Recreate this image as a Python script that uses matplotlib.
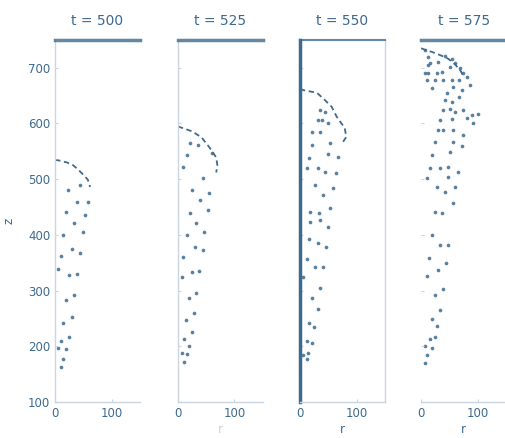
import numpy as np
import matplotlib as mpl
mpl.use('Agg')
import matplotlib.pyplot as plt

# times of the four snapshots
times = [500, 525, 550, 575]

# parcel positions (r, z) per snapshot
r_500 = [23, 39, 19, 33, 49, 14, 30, 44, 11, 58, 53, 44, 5, 25, 39, 33, 19, 30, 14, 25, 11, 19, 14, 11, 5]
z_500 = [480, 459, 441, 421, 405, 400, 375, 367, 362, 459, 436, 490, 339, 328, 330, 292, 283, 253, 242, 217, 209, 195, 177, 163, 197]

r_525 = [21, 35, 16, 60, 9, 44, 25, 56, 39, 21, 53, 33, 47, 16, 30, 44, 9, 25, 37, 7, 19, 33, 14, 28, 25, 11, 19, 7, 16, 11]
z_525 = [565, 561, 543, 547, 522, 502, 481, 475, 463, 439, 445, 421, 405, 400, 378, 373, 360, 333, 335, 324, 287, 296, 247, 260, 226, 213, 200, 188, 186, 172]

r_550 = [35, 44, 32, 39, 49, 21, 35, 21, 53, 16, 49, 67, 12, 32, 44, 63, 26, 40, 58, 18, 33, 53,
         18, 35, 49, 16, 32, 46, 12, 26, 40, 5, 35, 21, 32, 16, 25, 12, 21, 5, 14, 12]
z_550 = [624, 621, 606, 606, 601, 585, 585, 561, 565, 538, 545, 540, 520, 520, 513, 511, 490, 472, 484, 441, 439, 448,
         423, 427, 414, 393, 385, 378, 357, 342, 342, 324, 305, 287, 267, 242, 235, 209, 206, 184, 188, 177]

r_575 = [12, 12, 12, 7, 16, 7, 30, 42, 54, 60, 68, 74, 51, 28, 37, 25, 39, 54, 67, 81, 11, 19, 56, 72, 86, 46,
         42, 54, 67, 39, 51, 60, 74, 100, 89, 33, 54, 81, 91, 30, 39, 56, 74, 25, 56, 72, 19, 51, 16, 33, 47, 47,
         65, 11, 28, 42, 60, 56, 25, 37, 19, 33, 47, 14, 30, 44, 11, 25, 39, 33, 19, 28, 16, 25, 7, 19, 11, 7]
z_575 = [719, 705, 690, 732, 708, 690, 710, 721, 716, 708, 700, 690, 701, 690, 692, 678, 678, 678, 678, 683, 678, 664, 665, 660, 669, 655,
         642, 639, 647, 624, 626, 621, 624, 617, 615, 606, 608, 610, 601, 588, 588, 588, 579, 567, 567, 560, 543, 549, 520, 520, 522, 504,
         513, 502, 486, 477, 486, 457, 441, 439, 400, 382, 382, 358, 337, 350, 326, 292, 303, 265, 249, 236, 213, 217, 201, 197, 184, 170]

# cap outline per snapshot
cap_r = [[0, 5, 21, 32, 40, 49, 58, 62],
         [0, 2, 25, 42, 56, 68, 70, 68],
         [0, 5, 30, 44, 56, 65, 79, 82, 75],
         [0, 7, 20, 35, 48, 60, 70, 76]]
cap_z = [[534, 534, 530, 525, 518, 509, 499, 486],
         [594, 594, 586, 575, 557, 539, 525, 512],
         [662, 660, 655, 642, 630, 612, 592, 576, 565],
         [735, 732, 728, 722, 716, 706, 694, 682]]

pr = [r_500, r_525, r_550, r_575]
pz = [z_500, z_525, z_550, z_575]

dark = '#3d6a8e'
light = '#c9d6e1'

fig = plt.figure(figsize=(5.05, 4.38), dpi=100)
lefts = [0.109, 0.352, 0.594, 0.834]
for i in range(4):
    ax = fig.add_axes([lefts[i], 0.082, 0.168, 0.827])
    ax.scatter(pr[i], pz[i], s=7, color=dark, alpha=0.85, linewidths=0)
    ax.plot(cap_r[i], cap_z[i], color=dark, lw=1.3, ls=(0, (3, 2)))
    ax.set_xlim(0, 150)
    ax.set_ylim(100, 750)
    ax.set_xticks([0, 100])
    ax.set_yticks(np.arange(100, 701, 100))
    ax.tick_params(colors=dark, labelsize=8.5, length=2, width=0.8, direction='in', color=light)
    ax.set_title('t = %d' % times[i], color=dark, fontsize=10, pad=11)
    for s in ['left', 'bottom', 'right', 'top']:
        ax.spines[s].set_color(light)
        ax.spines[s].set_linewidth(1.0)
    ax.spines['right'].set_visible(i == 2)
    ax.spines['top'].set_color(dark)
    ax.spines['top'].set_alpha(0.8)
    ax.spines['top'].set_linewidth(1.5 if i == 2 else 2.5)
    if i == 2:
        ax.spines['left'].set_color(dark)
        ax.spines['left'].set_linewidth(2.5)
    if i == 3:
        ax.spines['left'].set_visible(False)
    if i == 0:
        ax.set_ylabel('z', color=dark, fontsize=8.5, labelpad=9)
    else:
        ax.set_yticklabels([])
        ax.set_xlabel('r', color=dark, fontsize=8.5, labelpad=2, alpha=0.3 if i == 1 else 1)
    ax.set_facecolor('white')

plt.savefig('out.png', dpi=100)
